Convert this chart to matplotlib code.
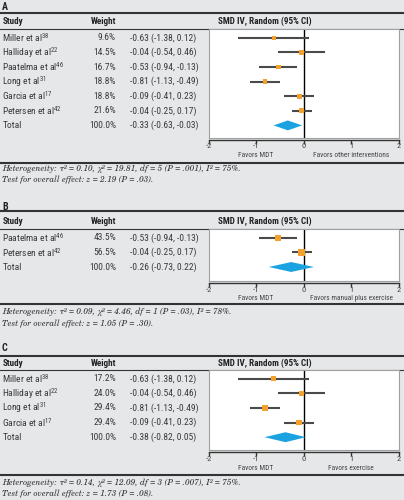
import matplotlib
matplotlib.use("Agg")
import matplotlib.pyplot as plt
from matplotlib import transforms

plt.rcParams['axes.unicode_minus'] = False
plt.rcParams['mathtext.fontset'] = 'custom'
plt.rcParams['mathtext.rm'] = 'Roboto Condensed'

BG = '#e6e7e9'
DARK = '#333333'
ORANGE = '#f4a02c'
BLUE = '#1ba3e1'
CI_COL = '#4a4a4a'
SANS = ['Roboto Condensed', 'DejaVu Sans']
SERIF = ['TeX Gyre Schola', 'DejaVu Serif']

ticks = [-2, -1, 0, 1, 2]

# Panel A
a_studies = ['Miller et al', 'Halliday et al', 'Paatelma et al', 'Long et al', 'Garcia et al', 'Petersen et al']
a_refs = ['38', '22', '46', '31', '17', '42']
a_weights = [9.6, 14.5, 16.7, 18.8, 18.8, 21.6]
a_smd = [-0.63, -0.04, -0.53, -0.81, -0.09, -0.04]
a_lower = [-1.38, -0.54, -0.94, -1.13, -0.41, -0.25]
a_upper = [0.12, 0.46, -0.13, -0.49, 0.23, 0.17]
a_total = [-0.33, -0.63, -0.03]
a_favors = ['Favors MDT', 'Favors other interventions']
a_het = 'Heterogeneity: τ² = 0.10, χ² = 19.81, df = 5 (P = .001), I² = 75%.'
a_test = 'Test for overall effect: z = 2.19 (P = .03).'

# Panel B
b_studies = ['Paatelma et al', 'Petersen et al']
b_refs = ['46', '42']
b_weights = [43.5, 56.5]
b_smd = [-0.53, -0.04]
b_lower = [-0.94, -0.25]
b_upper = [-0.13, 0.17]
b_total = [-0.26, -0.73, 0.22]
b_favors = ['Favors MDT', 'Favors manual plus exercise']
b_het = 'Heterogeneity: τ² = 0.09, χ² = 4.46, df = 1 (P = .03), I² = 78%.'
b_test = 'Test for overall effect: z = 1.05 (P = .30).'

# Panel C
c_studies = ['Miller et al', 'Halliday et al', 'Long et al', 'Garcia et al']
c_refs = ['38', '22', '31', '17']
c_weights = [17.2, 24.0, 29.4, 29.4]
c_smd = [-0.63, -0.04, -0.81, -0.09]
c_lower = [-1.38, -0.54, -1.13, -0.41]
c_upper = [0.12, 0.46, -0.49, 0.23]
c_total = [-0.38, -0.82, 0.05]
c_favors = ['Favors MDT', 'Favors exercise']
c_het = 'Heterogeneity: τ² = 0.14, χ² = 12.09, df = 3 (P = .007), I² = 75%.'
c_test = 'Test for overall effect: z = 1.73 (P = .08).'

panels = [
    ('A', a_studies, a_refs, a_weights, a_smd, a_lower, a_upper, a_total, a_favors, a_het, a_test),
    ('B', b_studies, b_refs, b_weights, b_smd, b_lower, b_upper, b_total, b_favors, b_het, b_test),
    ('C', c_studies, c_refs, c_weights, c_smd, c_lower, c_upper, c_total, c_favors, c_het, c_test),
]

# vertical layout in pixels for each panel
layout = [
    dict(label=7, topline=13, header=21.5, hline=28.5, bottom=137.5, favors=155.5, botline=162.5, het=168.5, test=180.5),
    dict(label=206.5, topline=211, header=221, hline=228.5, bottom=281, favors=299, botline=304, het=311.5, test=324),
    dict(label=348, topline=356, header=363.5, hline=369.5, bottom=450, favors=469, botline=474.5, het=482.5, test=494),
]

W, H = 404, 500
BOX_L, BOX_R = 208.5, 398.5
ROW0, STEP = 9.3, 14.6


def fmt(v):
    return f'{v:.2f}'


fig = plt.figure(figsize=(W / 100, H / 100), dpi=100, facecolor=BG)
bg = fig.add_axes([0, 0, 1, 1], facecolor=BG)
bg.set_xlim(0, W)
bg.set_ylim(H, 0)
bg.axis('off')

for (label, studies, refs, weights, smd, lower, upper, total, favors, het, test), L in zip(panels, layout):
    n = len(studies) + 1
    ax = fig.add_axes([BOX_L / W, 1 - L['bottom'] / H, (BOX_R - BOX_L) / W, (L['bottom'] - L['hline']) / H],
                      facecolor='white')
    ax.set_xlim(-2, 2)
    ax.set_ylim((L['bottom'] - L['hline'] - ROW0) / STEP, -ROW0 / STEP)
    rows = list(range(len(studies)))
    trow = len(studies)

    ax.axvline(0, color='black', lw=1.0, zorder=1)
    ax.hlines(rows, lower, upper, color=CI_COL, lw=1.5, zorder=2)
    sizes = [((2 + 0.65 * w ** 0.5) * 0.72) ** 2 for w in weights]
    ax.scatter(smd, rows, marker='s', s=sizes, color=ORANGE, lw=0, zorder=3)
    est, lo, hi = total
    ax.fill([lo, est, hi, est], [trow, trow - 0.34, trow, trow + 0.34], color=BLUE, lw=0, zorder=3)

    for side in ['left', 'right', 'top']:
        ax.spines[side].set_color('#a0a0a0')
        ax.spines[side].set_linewidth(0.8)
    ax.spines['bottom'].set_position(('outward', 1.5))
    ax.spines['bottom'].set_color(DARK)
    ax.spines['bottom'].set_linewidth(1.0)
    ax.plot([0, 1], [0, 0], transform=ax.transAxes, color='#a0a0a0', lw=0.8, clip_on=False)
    ax.set_yticks([])
    ax.set_xticks(ticks)
    ax.set_xticklabels([str(t) for t in ticks], family=SANS)
    ax.tick_params(axis='x', direction='out', length=2.8, width=1, color=DARK,
                   labelsize=6.0, labelcolor='#444444', pad=0)

    # favors labels under the axis
    tf = transforms.blended_transform_factory(ax.transData, bg.transData)
    ax.text(-1, L['favors'], favors[0], transform=tf, ha='center', va='center',
            fontsize=5.3, color='#444444', family=SANS)
    ax.text(1, L['favors'], favors[1], transform=tf, ha='center', va='center',
            fontsize=5.3, color='#444444', family=SANS)

    # table lines and headers
    bg.text(2, L['label'], label, fontsize=7.2, fontweight='bold', va='center', family=SANS, color='#222222')
    bg.plot([0, W], [L['topline'], L['topline']], color=DARK, lw=1.5)
    bg.plot([0, W], [L['hline'], L['hline']], color=DARK, lw=0.8)
    bg.plot([0, W], [L['botline'], L['botline']], color=DARK, lw=1.5)
    bg.text(2.5, L['header'], 'Study', fontsize=6.6, fontweight='bold', va='center', family=SANS, color='#222222')
    bg.text(116.5, L['header'], 'Weight', fontsize=6.6, fontweight='bold', va='center', ha='right',
            family=SANS, color='#222222')
    bg.text(218, L['header'], 'SMD IV, Random (95% CI)', fontsize=6.6, fontweight='bold', va='center',
            family=SANS, color='#222222')

    # table rows aligned with plot rows
    tr = transforms.blended_transform_factory(bg.transData, ax.transData)
    names = [s + '$^{\\mathrm{' + r + '}}$' for s, r in zip(studies, refs)] + ['Total']
    wts = [f'{w:.1f}%' for w in weights] + ['100.0%']
    cis = [f'{fmt(m)} ({fmt(a)}, {fmt(b)})' for m, a, b in zip(smd, lower, upper)]
    cis.append(f'{fmt(est)} ({fmt(lo)}, {fmt(hi)})')
    for i in range(n):
        bg.text(2.5, i, names[i], transform=tr, fontsize=6.8, va='center', family=SANS, color='#3a3a3a')
        bg.text(116, i, wts[i], transform=tr, fontsize=6.8, va='center', ha='right', family=SANS, color='#3a3a3a')
        bg.text(129.5, i, cis[i], transform=tr, fontsize=6.8, va='center', family=SANS, color='#3a3a3a')

    bg.text(2, L['het'], het, fontsize=6.0, style='italic', va='center', family=SERIF, color='#333333')
    bg.text(2, L['test'], test, fontsize=6.0, style='italic', va='center', family=SERIF, color='#333333')

fig.savefig('out.png', dpi=100, facecolor=BG)
